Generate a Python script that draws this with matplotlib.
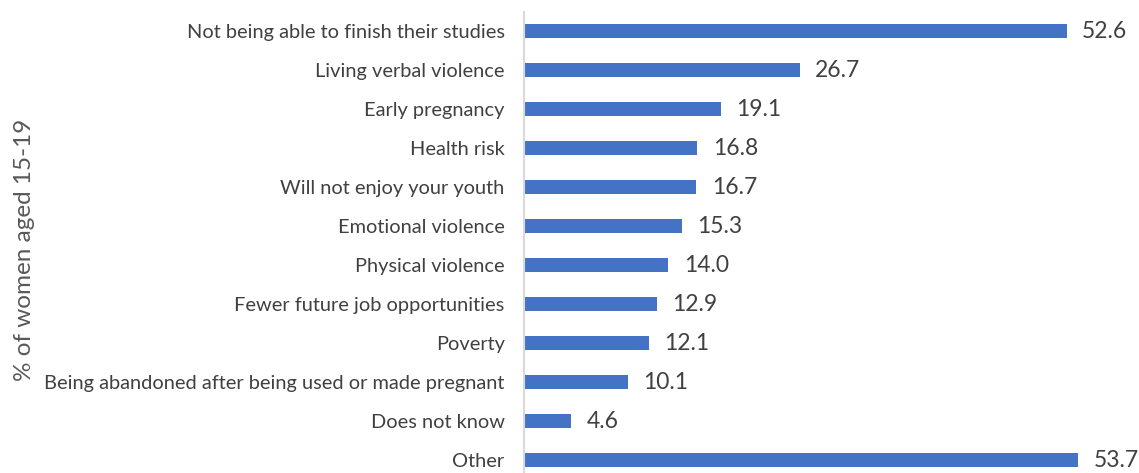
import matplotlib
matplotlib.use("Agg")
import matplotlib.pyplot as plt

categories = [
    "Not being able to finish their studies",
    "Living verbal violence",
    "Early pregnancy",
    "Health risk",
    "Will not enjoy your youth",
    "Emotional violence",
    "Physical violence",
    "Fewer future job opportunities",
    "Poverty",
    "Being abandoned after being used or made pregnant",
    "Does not know",
    "Other",
]
values = [52.6, 26.7, 19.1, 16.8, 16.7, 15.3, 14.0, 12.9, 12.1, 10.1, 4.6, 53.7]
axis_title = "% of women aged 15-19"

W, H = 1139, 473
fig = plt.figure(figsize=(W / 100, H / 100), dpi=100)
plt.rcParams["font.family"] = ["Lato", "DejaVu Sans"]

px_per_unit = 10.32
xmax = 60
left = 524 / W
top_px, bot_px = 11.5, 479.5
ax = fig.add_axes([left, (H - bot_px) / H, xmax * px_per_unit / W, (bot_px - top_px) / H])

bar_color = "#4472C4"
ypos = list(range(len(categories)))
ax.barh(ypos, values, height=0.36, color=bar_color)
ax.set_ylim(len(categories) - 0.5, -0.5)
ax.set_xlim(0, xmax)

ax.set_yticks(ypos)
ax.set_yticklabels(categories, fontsize=14.4, color="#404040")
ax.tick_params(axis="y", length=0, pad=14)
ax.set_xticks([])

for s in ["top", "right", "bottom"]:
    ax.spines[s].set_visible(False)
ax.spines["left"].set_color("#D9D9D9")
ax.spines["left"].set_linewidth(1.5)

for y, v in zip(ypos, values):
    ax.annotate(f"{v:.1f}", xy=(v, y), xytext=(11, 0), textcoords="offset points",
                va="center", ha="left", fontsize=16.5, color="#404040")

fig.text(25 / W, 0.5 + (H / 2 - 250) / H, axis_title, rotation=90, va="center", ha="center",
         fontsize=17.5, color="#595959")

fig.savefig("out.png", dpi=100)
